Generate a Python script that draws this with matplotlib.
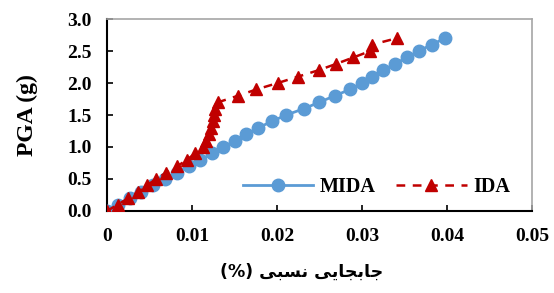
import matplotlib
matplotlib.use("Agg")
import matplotlib.pyplot as plt

# MIDA (blue circles)
mida_drift = [0, 0.0013, 0.0027, 0.0040, 0.0054, 0.0068, 0.0082, 0.0096, 0.0110, 0.0124,
              0.0137, 0.0151, 0.0164, 0.0178, 0.0194, 0.0211, 0.0232, 0.0250, 0.0268, 0.0286,
              0.0300, 0.0312, 0.0325, 0.0339, 0.0353, 0.0367, 0.0382, 0.0398]
mida_pga = [0.0, 0.1, 0.2, 0.3, 0.4, 0.5, 0.6, 0.7, 0.8, 0.9, 1.0, 1.1, 1.2, 1.3, 1.4,
            1.5, 1.6, 1.7, 1.8, 1.9, 2.0, 2.1, 2.2, 2.3, 2.4, 2.5, 2.6, 2.7]

# IDA (red triangles, dashed)
ida_drift = [0, 0.0013, 0.0025, 0.0037, 0.0047, 0.0058, 0.0070, 0.0083, 0.0094, 0.0104,
             0.0113, 0.0117, 0.0120, 0.0123, 0.0125, 0.0126, 0.0127, 0.0131, 0.0154, 0.0176,
             0.0201, 0.0225, 0.0249, 0.0270, 0.0290, 0.0310, 0.0312, 0.0341]
ida_pga = [0.0, 0.1, 0.2, 0.3, 0.4, 0.5, 0.6, 0.7, 0.8, 0.9, 1.0, 1.1, 1.2, 1.3, 1.4,
           1.5, 1.6, 1.7, 1.8, 1.9, 2.0, 2.1, 2.2, 2.3, 2.4, 2.5, 2.6, 2.7]

x_ticks = [0, 0.01, 0.02, 0.03, 0.04, 0.05]
x_tick_labels = ["0", "0.01", "0.02", "0.03", "0.04", "0.05"]
y_ticks = [0.0, 0.5, 1.0, 1.5, 2.0, 2.5, 3.0]
y_tick_labels = ["0.0", "0.5", "1.0", "1.5", "2.0", "2.5", "3.0"]

# x label "جابجایی نسبی (%)" written with presentation forms in visual order,
# since matplotlib does no Arabic shaping
x_label = "(%) " + "\ufbfd\ufe92\ufeb4\ufee7" + " " + "\ufbfd\ufbfe\ufe8e\ufea0\ufe91\ufe8e\ufe9f"

plt.rcParams["font.family"] = ["Liberation Serif", "DejaVu Serif"]
plt.rcParams["font.weight"] = "bold"

fig = plt.figure(figsize=(5.54, 2.93), dpi=100)
ax = fig.add_axes([0.193, 0.280, 0.767, 0.655])

ax.plot(mida_drift, mida_pga, color="#5B9BD5", linewidth=2, marker="o",
        markersize=9, label="MIDA", zorder=3)
ax.plot(ida_drift, ida_pga, color="#C00000", linewidth=1.8, linestyle=(0, (3.5, 3)),
        marker="^", markersize=9, label="IDA", zorder=4)

ax.set_xlim(0, 0.05)
ax.set_ylim(0, 3.0)
ax.set_xticks(x_ticks)
ax.set_xticklabels(x_tick_labels, fontsize=14, fontweight="bold")
ax.set_yticks(y_ticks)
ax.set_yticklabels(y_tick_labels, fontsize=14, fontweight="bold")
ax.tick_params(direction="in", length=4, width=1.2)
ax.tick_params(axis="x", pad=12)
ax.tick_params(axis="y", pad=11)

for side in ("left", "bottom"):
    ax.spines[side].set_color("black")
    ax.spines[side].set_linewidth(1.5)
for side in ("top", "right"):
    ax.spines[side].set_color("#A6A6A6")
    ax.spines[side].set_linewidth(1.2)

ax.set_ylabel("PGA (g)", fontsize=17, fontweight="bold")
ax.yaxis.set_label_coords(-0.188, 0.5)
ax.yaxis.label.set_va("center")

ax.set_xlabel(x_label, fontsize=12.5, fontweight="bold", family=["DejaVu Sans"])
ax.xaxis.set_label_coords(0.459, -0.318)
ax.xaxis.label.set_va("center")

leg = ax.legend(loc="center right", ncol=2, frameon=False, fontsize=14.5,
                handlelength=3.5, handletextpad=0.35, columnspacing=1.0,
                borderpad=0, borderaxespad=0, bbox_to_anchor=(0.95, 0.125))
for t in leg.get_texts():
    t.set_fontweight("bold")

fig.savefig("out.png", dpi=100)
